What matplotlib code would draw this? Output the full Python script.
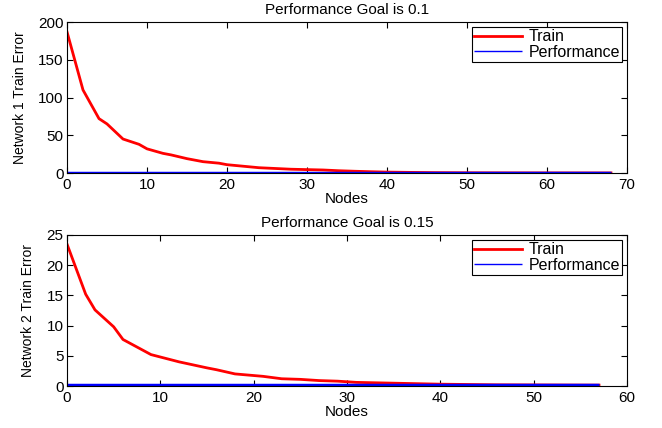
import matplotlib
matplotlib.use("Agg")
import matplotlib.pyplot as plt
import numpy as np

plt.rcParams["font.family"] = ["Liberation Sans", "DejaVu Sans"]

# Network 1: training error vs number of nodes (goal 0.1)
net1_nodes = [0, 2, 4, 5, 7, 9, 10, 12, 13, 15, 17, 19, 20, 22, 24, 26, 28, 30,
              32, 34, 36, 38, 40, 43, 46, 50, 55, 60, 64, 68]
net1_train = [187, 110, 72, 65, 45, 38, 32, 26, 24, 19, 15, 13, 11, 9, 7, 6, 5, 4.5,
              4, 3, 2.3, 1.7, 1.2, 0.8, 0.5, 0.3, 0.2, 0.15, 0.12, 0.1]
net1_goal = 0.1

# Network 2: training error vs number of nodes (goal 0.15)
net2_nodes = [0, 2, 3, 5, 6, 9, 12, 15, 16, 18, 21, 23, 25, 27, 29, 31, 34, 37,
              40, 43, 46, 50, 54, 57]
net2_train = [23.5, 15.2, 12.6, 9.8, 7.7, 5.2, 4.0, 3.0, 2.7, 2.0, 1.6, 1.2, 1.1, 0.9,
              0.8, 0.6, 0.5, 0.4, 0.3, 0.25, 0.2, 0.18, 0.16, 0.15]
net2_goal = 0.15

panels = [
    (net1_nodes, net1_train, net1_goal, "Network 1 Train Error",
     "Performance Goal is 0.1", (0, 70), (0, 200), [0, 50, 100, 150, 200]),
    (net2_nodes, net2_train, net2_goal, "Network 2 Train Error",
     "Performance Goal is 0.15", (0, 60), (0, 25), [0, 5, 10, 15, 20, 25]),
]

fig = plt.figure(figsize=(6.62, 4.28), dpi=100)
axes_rects = [
    [67 / 662, 1 - 173 / 428, 560 / 662, 151 / 428],
    [67 / 662, 1 - 386 / 428, 560 / 662, 151 / 428],
]

for rect, (nodes, train, goal, ylabel, title, xlim, ylim, yticks) in zip(axes_rects, panels):
    ax = fig.add_axes(rect)
    ax.plot(nodes, train, color="red", lw=2, label="Train")
    ax.plot([nodes[0], nodes[-1]], [goal, goal], color="blue", lw=2.5,
            label="Performance", solid_capstyle="butt")
    ax.set_xlim(*xlim)
    ax.set_ylim(*ylim)
    ax.set_yticks(yticks)
    ax.set_xticks(np.arange(xlim[0], xlim[1] + 1, 10))
    ax.tick_params(direction="in", top=True, right=True, labelsize=11,
                   length=4, width=0.8)
    ax.tick_params(axis="x", pad=3.5)
    ax.tick_params(axis="y", pad=2.5)
    for s in ax.spines.values():
        s.set_linewidth(0.8)
    ax.set_ylabel(ylabel, fontsize=10, labelpad=8)
    ax.set_xlabel("Nodes", fontsize=11, labelpad=0)
    ax.set_title(title, fontsize=11, pad=5.5)
    leg = ax.legend(loc="upper right", fontsize=11.5, fancybox=False,
                    framealpha=1, edgecolor="black", borderaxespad=0.3,
                    handlelength=3.0, handletextpad=0.4, borderpad=0.15,
                    labelspacing=0.05)
    leg.get_frame().set_linewidth(0.8)
    leg.get_lines()[1].set_linewidth(1)

fig.savefig("out.png", dpi=100)
